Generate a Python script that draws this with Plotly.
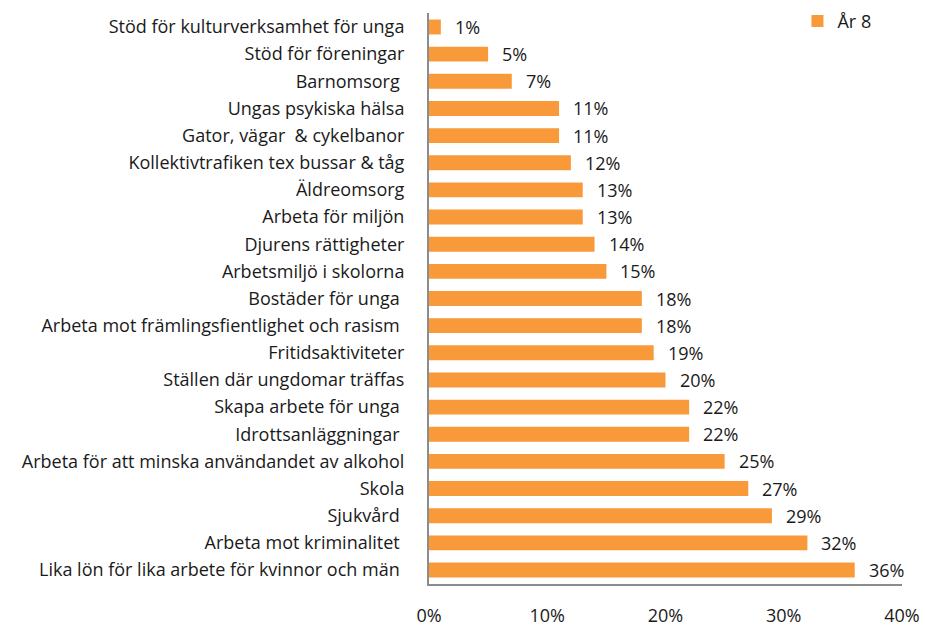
import plotly.graph_objects as go

categories = [
    "Stöd för kulturverksamhet för unga",
    "Stöd för föreningar",
    "Barnomsorg ",
    "Ungas psykiska hälsa",
    "Gator, vägar  & cykelbanor",
    "Kollektivtrafiken tex bussar & tåg",
    "Äldreomsorg",
    "Arbeta för miljön",
    "Djurens rättigheter",
    "Arbetsmiljö i skolorna",
    "Bostäder för unga ",
    "Arbeta mot främlingsfientlighet och rasism ",
    "Fritidsaktiviteter",
    "Ställen där ungdomar träffas",
    "Skapa arbete för unga ",
    "Idrottsanläggningar ",
    "Arbeta för att minska användandet av alkohol",
    "Skola",
    "Sjukvård ",
    "Arbeta mot kriminalitet ",
    "Lika lön för lika arbete för kvinnor och män ",
]
values = [0.01, 0.05, 0.07, 0.11, 0.11, 0.12, 0.13, 0.13, 0.14, 0.15, 0.18,
          0.18, 0.19, 0.20, 0.22, 0.22, 0.25, 0.27, 0.29, 0.32, 0.36]
series_name = "År 8"
x_ticks = [0, 0.1, 0.2, 0.3, 0.4]
x_ticklabels = ["0%", "10%", "20%", "30%", "40%"]

labels_disp = [c.replace(" ", "\u00a0") for c in categories]

font_family = "'Open Sans', sans-serif"
color = "#F99A3A"
fsize = 18

fig = go.Figure()
fig.add_trace(go.Bar(
    y=labels_disp, x=values, orientation="h", name=series_name,
    marker=dict(color=color, line=dict(width=0)),
    showlegend=True, hoverinfo="skip",
))

for c, v in zip(labels_disp, values):
    fig.add_annotation(x=v, y=c, text=f"{round(v*100)}%", showarrow=False,
                       xanchor="left", yanchor="middle", xshift=12,
                       font=dict(family=font_family, size=fsize, color="#1a1a1a"))

fig.update_layout(
    width=925, height=630,
    margin=dict(l=429, r=23, t=13, b=46, autoexpand=False),
    paper_bgcolor="white", plot_bgcolor="white",
    bargap=0.45,
    font=dict(family=font_family, size=fsize, color="#1a1a1a"),
    legend=dict(x=0.779, y=1.018, xanchor="left", yanchor="top",
                font=dict(size=fsize), bgcolor="rgba(0,0,0,0)", itemwidth=30),
    xaxis=dict(range=[0, 0.4], tickvals=x_ticks, ticktext=x_ticklabels,
               showgrid=False, zeroline=False, showline=True,
               linecolor="#8c8c8c", linewidth=2, ticks="", automargin=False,
               ticklabelstandoff=14, fixedrange=True),
    yaxis=dict(autorange="reversed", showgrid=False, zeroline=False,
               showline=True, linecolor="#8c8c8c", linewidth=2, ticks="",
               automargin=False, ticklabelstandoff=19, fixedrange=True),
)

fig.write_html("out.html", config={"displayModeBar": False},
               post_script="document.body.style.margin='0';document.body.style.overflow='hidden';")
